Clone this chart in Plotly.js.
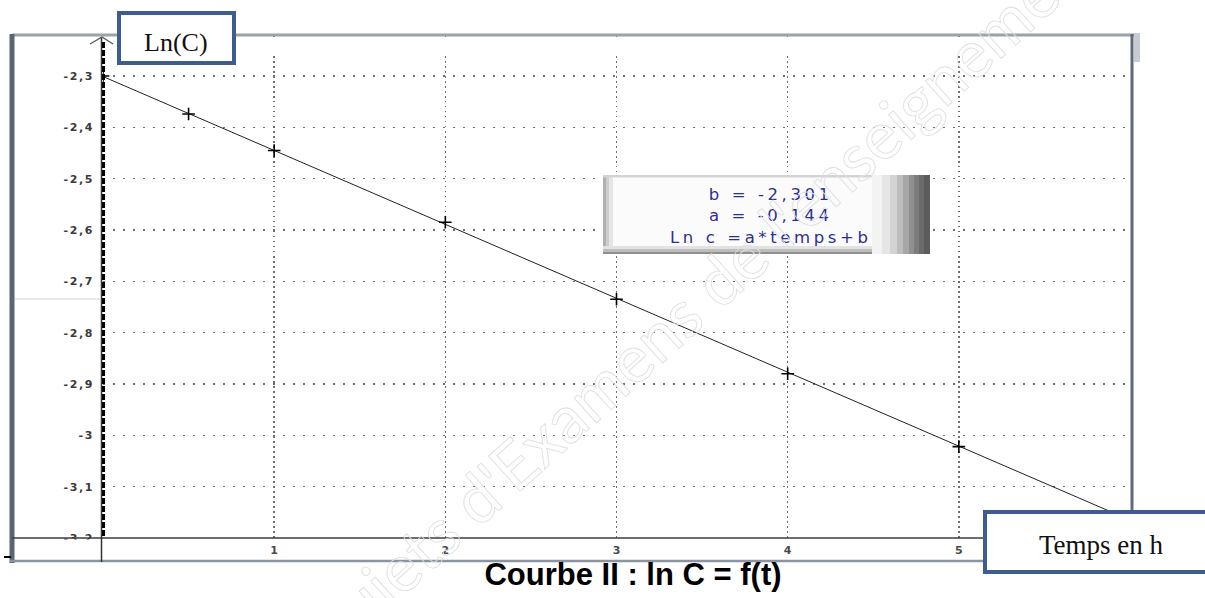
<!DOCTYPE html>
<html>
<head>
<meta charset="utf-8">
<script src="https://cdn.plot.ly/plotly-3.0.1.min.js"></script>
<style>
  html, body { margin: 0; padding: 0; background: #fff; }
  #chart { width: 1205px; height: 598px; }
  .ytick text { letter-spacing: 1.6px; }
  .annotation[data-index="0"] .annotation-text { letter-spacing: 3.6px; }
  .annotation[data-index="3"] .annotation-text { fill: none !important; stroke: #e0e0e0; stroke-width: 0.9px; }
</style>
</head>
<body>
<div id="chart"></div>
<script>
// ---- data ----
const timeH   = [0, 0.5, 1, 2, 3, 4, 5];
const lnC     = [-2.30, -2.374, -2.445, -2.585, -2.735, -2.880, -3.022];
const fitTime = [0, 6];
const fitLnC  = [-2.301, -3.165];
const xTickVals = [1, 2, 3, 4, 5];
const xTickText = ['1', '2', '3', '4', '5'];
const yTickVals = [-3.2, -3.1, -3.0, -2.9, -2.8, -2.7, -2.6, -2.5, -2.4, -2.3];
const yTickText = ['-3,2', '-3,1', '-3', '-2,9', '-2,8', '-2,7', '-2,6', '-2,5', '-2,4', '-2,3'];
const eqLines   = ['b = -2,301', 'a = -0,144', 'Ln c =a*temps+b'];
const yLabel = 'Ln(C)';
const xLabel = 'Temps en h';
const chartTitle = 'Courbe II : ln C = f(t)';
const watermark = "Sujets d'Examens de l'enseignement";

// ---- layout geometry (pixels) ----
const W = 1205, H = 598, ML = 103, MR = 75, MT = 36, MB = 60;
const PW = W - ML - MR, PH = H - MT - MB;
const px = v => (v - ML) / PW;
const py = v => (H - MB - v) / PH;

function line(x0, y0, x1, y1, color, width, dash) {
  return { type: 'line', xref: 'paper', yref: 'paper', layer: 'above',
    x0: px(x0), y0: py(y0), x1: px(x1), y1: py(y1),
    line: { color: color, width: width, dash: dash || 'solid' } };
}
function rect(x0, y0, x1, y1, fill, lineColor, lineWidth) {
  return { type: 'rect', xref: 'paper', yref: 'paper', layer: 'above',
    x0: px(x0), y0: py(y0), x1: px(x1), y1: py(y1),
    fillcolor: fill, line: { color: lineColor || 'rgba(0,0,0,0)', width: lineWidth || 0 } };
}

const shapes = [];
// vertical grid lines start a little below the top frame
shapes.push(rect(105, 37, 1129, 56, '#ffffff'));
// cover for the clipped -3,2 label (strip under the axis)
shapes.push(rect(15, 539.5, 100, 560, '#ffffff'));
// outer frame of the software window
shapes.push(line(12, 35, 1134, 35, '#9aa2ac', 3));
shapes.push(line(12, 34, 12, 563, '#5b6571', 5));
shapes.push(line(1132, 34, 1132, 512, '#5d6a79', 3));
shapes.push(rect(1134, 33, 1140, 62, '#c8ccd2'));
shapes.push(line(10, 561, 985, 561, '#8b95a1', 2.5));
shapes.push(line(4, 557, 11, 557, '#000000', 2));
shapes.push(line(15, 299, 100, 299, '#d2d2d2', 1));
// axes lines
shapes.push(line(12, 538, 1131, 538, '#3c3c3c', 1.5));
shapes.push(line(101.5, 37, 101.5, 562, '#333333', 1.5));
shapes.push(line(103.5, 42, 103.5, 537, '#000000', 3, '6px,2px'));
shapes.push({ type: 'path', xref: 'paper', yref: 'paper', layer: 'above',
  path: `M ${px(90)} ${py(44)} L ${px(102)} ${py(37)} L ${px(113)} ${py(44)}`,
  line: { color: '#555555', width: 1.2 } });

// equation box with bevel
shapes.push(rect(603, 175, 930, 254, '#fbfbfb'));
const leftBevel = [[603, 606, '#b0b0b0'], [606, 609, '#cdcdcd'], [609, 613, '#e6e6e6']];
leftBevel.forEach(s => shapes.push(rect(s[0], 175, s[1], 254, s[2])));
shapes.push(rect(603, 175, 930, 177.5, '#d3d3d3'));
const bottomBevel = [[246, 249, '#e2e2e2'], [249, 252, '#bdbdbd'], [252, 254, '#8f8f8f']];
bottomBevel.forEach(s => shapes.push(rect(603, s[0], 930, s[1], s[2])));
const rightBevel = [[872, 882, '#f3f3f3'], [882, 890, '#e6e6e6'], [890, 897, '#d3d3d3'],
  [897, 903, '#bdbdbd'], [903, 909, '#a6a6a6'], [909, 914, '#909090'],
  [914, 919, '#7c7c7c'], [919, 924, '#6b6b6b'], [924, 930, '#5c5c5c']];
rightBevel.forEach(s => shapes.push(rect(s[0], 175, s[1], 254, s[2])));

// label boxes
shapes.push(rect(119, 13, 234, 63, '#ffffff', '#3d5d8e', 4));
shapes.push(rect(985, 512, 1220, 572, '#ffffff', '#3d5d8e', 4));

const annotations = [
  { text: eqLines.join('<br>'), x: px(770), y: py(216), align: 'center',
    font: { family: 'DejaVu Sans, Verdana, sans-serif', size: 16.5, color: '#2d2d96' } },
  { text: yLabel, x: px(176), y: py(43),
    font: { family: 'Liberation Serif, Times New Roman, serif', size: 26, color: '#111' } },
  { text: xLabel, x: px(1101), y: py(545),
    font: { family: 'Liberation Serif, Times New Roman, serif', size: 27, color: '#111' } },
  { text: watermark, x: px(705), y: py(290), textangle: -42,
    font: { family: 'Lato, Noto Sans, sans-serif', size: 66, color: '#e6e6e6' } }
].map(a => Object.assign({ xref: 'paper', yref: 'paper', xanchor: 'center', yanchor: 'middle',
  showarrow: false }, a));

const traces = [
  { x: fitTime, y: fitLnC, mode: 'lines', type: 'scatter',
    line: { color: '#222222', width: 1 }, hoverinfo: 'skip' },
  { x: timeH, y: lnC, mode: 'markers', type: 'scatter',
    marker: { symbol: 'cross-thin', size: 9, line: { color: '#000000', width: 1.6 } } }
];

const layout = {
  width: W, height: H,
  margin: { l: ML, r: MR, t: MT, b: MB, pad: 0 },
  paper_bgcolor: '#ffffff', plot_bgcolor: '#ffffff',
  showlegend: false,
  title: { text: chartTitle, xref: 'container', yref: 'container',
    x: 633 / W, y: 1 - 574 / H, xanchor: 'center', yanchor: 'middle',
    font: { family: 'Liberation Sans, Arial, sans-serif', size: 31, weight: 'bold', color: '#000' } },
  xaxis: {
    range: [0, 6], tickvals: xTickVals, ticktext: xTickText,
    showgrid: true, gridcolor: '#6e6e6e', gridwidth: 1.5, griddash: '1.5px,3.5px',
    zeroline: false, showline: false, ticks: '', ticklabelstandoff: 4,
    tickfont: { family: 'DejaVu Sans, Verdana, sans-serif', size: 11, weight: 'bold', color: '#4a4a4a' }
  },
  yaxis: {
    range: [-3.2, -3.2 + PH / 513.3], tickvals: yTickVals, ticktext: yTickText,
    showgrid: true, gridcolor: '#6e6e6e', gridwidth: 1.5, griddash: '2px,8px',
    zeroline: false, showline: false, ticks: '', ticklabelstandoff: 8,
    tickfont: { family: 'DejaVu Sans, Verdana, sans-serif', size: 11, weight: 'bold', color: '#3a3a3a' }
  },
  shapes: shapes,
  annotations: annotations
};

Plotly.newPlot('chart', traces, layout, { staticPlot: true, displayModeBar: false });
</script>
</body>
</html>
